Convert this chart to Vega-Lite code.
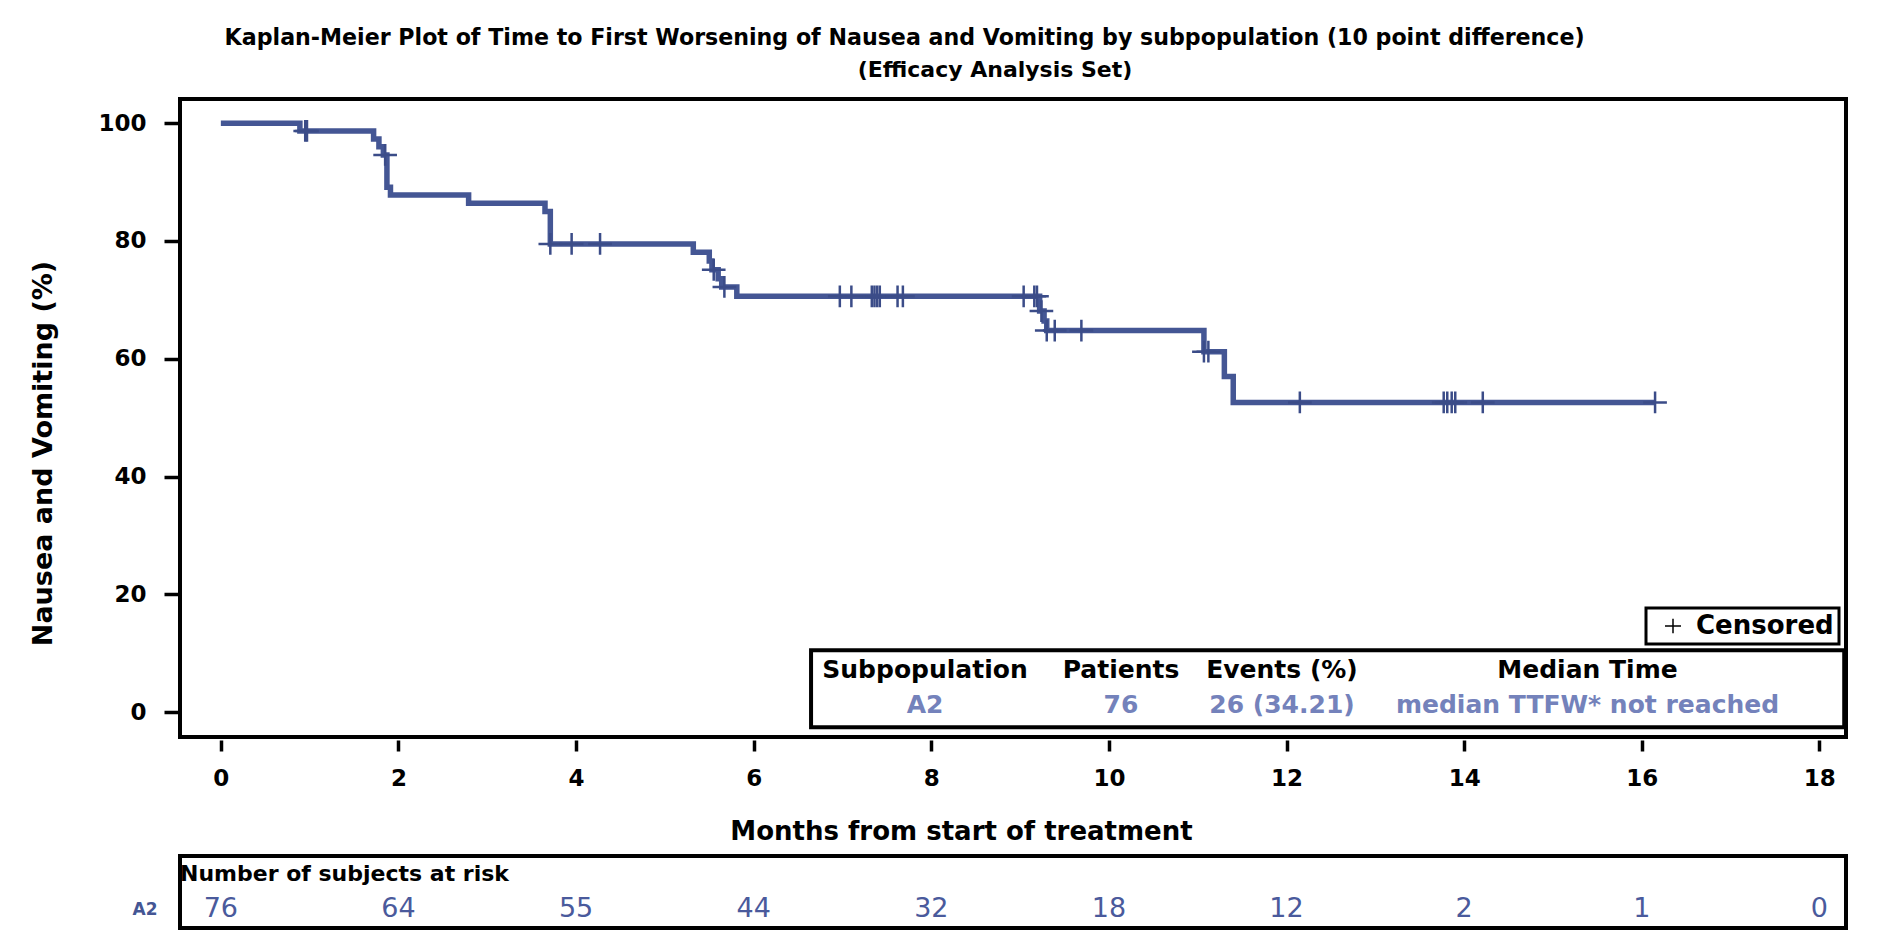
{
  "$schema": "https://vega.github.io/schema/vega-lite/v6.json",
  "background": "white",
  "padding": {"left": 27, "top": 26, "right": 10, "bottom": 4},
  "config": {
    "font": "DejaVu Sans",
    "view": {"stroke": "black", "strokeWidth": 4},
    "axis": {"labelFont": "DejaVu Sans", "titleFont": "DejaVu Sans", "labelColor": "black", "titleColor": "black", "tickColor": "black", "grid": false, "domain": false},
    "title": {"font": "DejaVu Sans", "color": "black"},
    "legend": {"labelFont": "DejaVu Sans", "strokeWidth": 3}
  },
  "title": {
    "text": "Kaplan-Meier Plot of Time to First Worsening of Nausea and Vomiting by subpopulation (10 point difference)",
    "fontSize": 22.15, "fontWeight": "bold", "anchor": "middle", "offset": 7, "dx": -33
  },
  "datasets": {
    "km": [
      {"month": 0, "pct": 100},
      {"month": 0.89, "pct": 98.68},
      {"month": 1.72, "pct": 97.3},
      {"month": 1.78, "pct": 96.0},
      {"month": 1.83, "pct": 94.6},
      {"month": 1.87, "pct": 89.1},
      {"month": 1.91, "pct": 87.8},
      {"month": 2.79, "pct": 86.4},
      {"month": 3.65, "pct": 85.0},
      {"month": 3.71, "pct": 79.5},
      {"month": 5.32, "pct": 78.1},
      {"month": 5.5, "pct": 76.6},
      {"month": 5.53, "pct": 75.1},
      {"month": 5.6, "pct": 73.6},
      {"month": 5.64, "pct": 72.2},
      {"month": 5.81, "pct": 70.6},
      {"month": 9.22, "pct": 68.1},
      {"month": 9.27, "pct": 66.4},
      {"month": 9.3, "pct": 64.8},
      {"month": 11.07, "pct": 61.2},
      {"month": 11.3, "pct": 57.0},
      {"month": 11.4, "pct": 52.6},
      {"month": 16.15, "pct": 52.6}
    ],
    "censored": [
      {"month": 0.95, "pct": 98.68},
      {"month": 0.97, "pct": 98.68},
      {"month": 1.85, "pct": 94.6},
      {"month": 3.71, "pct": 79.5},
      {"month": 3.95, "pct": 79.5},
      {"month": 4.27, "pct": 79.5},
      {"month": 5.55, "pct": 75.1},
      {"month": 5.67, "pct": 72.2},
      {"month": 6.97, "pct": 70.6},
      {"month": 7.1, "pct": 70.6},
      {"month": 7.33, "pct": 70.6},
      {"month": 7.36, "pct": 70.6},
      {"month": 7.39, "pct": 70.6},
      {"month": 7.42, "pct": 70.6},
      {"month": 7.62, "pct": 70.6},
      {"month": 7.68, "pct": 70.6},
      {"month": 9.04, "pct": 70.6},
      {"month": 9.16, "pct": 70.6},
      {"month": 9.19, "pct": 70.6},
      {"month": 9.24, "pct": 68.1},
      {"month": 9.3, "pct": 64.8},
      {"month": 9.39, "pct": 64.8},
      {"month": 9.69, "pct": 64.8},
      {"month": 11.07, "pct": 61.2},
      {"month": 11.12, "pct": 61.2},
      {"month": 12.15, "pct": 52.6},
      {"month": 13.77, "pct": 52.6},
      {"month": 13.81, "pct": 52.6},
      {"month": 13.86, "pct": 52.6},
      {"month": 13.9, "pct": 52.6},
      {"month": 14.21, "pct": 52.6},
      {"month": 16.15, "pct": 52.6}
    ],
    "summary": [
      {"column": 1, "row": "header", "label": "Subpopulation"},
      {"column": 2, "row": "header", "label": "Patients"},
      {"column": 3, "row": "header", "label": "Events (%)"},
      {"column": 4, "row": "header", "label": "Median Time"},
      {"column": 1, "row": "value", "label": "A2"},
      {"column": 2, "row": "value", "label": "76"},
      {"column": 3, "row": "value", "label": "26 (34.21)"},
      {"column": 4, "row": "value", "label": "median TTFW* not reached"}
    ],
    "risk": [
      {"group": "A2", "month": 0, "n": 76},
      {"group": "A2", "month": 2, "n": 64},
      {"group": "A2", "month": 4, "n": 55},
      {"group": "A2", "month": 6, "n": 44},
      {"group": "A2", "month": 8, "n": 32},
      {"group": "A2", "month": 10, "n": 18},
      {"group": "A2", "month": 12, "n": 12},
      {"group": "A2", "month": 14, "n": 2},
      {"group": "A2", "month": 16, "n": 1},
      {"group": "A2", "month": 18, "n": 0}
    ]
  },
  "spacing": 8,
  "vconcat": [
    {
      "width": 1666,
      "height": 638,
      "title": {"text": "(Efficacy Analysis Set)", "fontSize": 22, "fontWeight": "bold", "anchor": "middle", "frame": "group", "offset": 17, "dx": -18},
      "layer": [
        {
          "layer": [
            {
              "data": {"name": "km"},
              "mark": {"type": "line", "interpolate": "step-after", "color": "#445694", "strokeWidth": 5.5, "strokeCap": "butt", "strokeJoin": "miter"},
              "encoding": {
                "x": {
                  "field": "month", "type": "quantitative",
                  "scale": {"domain": [-0.46, 18.3], "nice": false, "zero": false},
                  "axis": {"values": [0, 2, 4, 6, 8, 10, 12, 14, 16, 18], "format": "d", "title": "Months from start of treatment", "titleFontSize": 26, "titleFontWeight": "bold", "labelFontSize": 23, "labelFontWeight": "bold", "tickSize": 11, "tickWidth": 3.5, "offset": 3, "labelPadding": 16, "titleX": 781, "titleY": 78}
                },
                "y": {
                  "field": "pct", "type": "quantitative",
                  "scale": {"domain": [-4.2, 104.1], "nice": false, "zero": false},
                  "axis": {"values": [0, 20, 40, 60, 80, 100], "title": "Nausea and Vomiting (%)", "titleFontSize": 27, "titleFontWeight": "bold", "labelFontSize": 23, "labelFontWeight": "bold", "tickSize": 14, "tickWidth": 3.5, "offset": 2, "labelPadding": 18, "titleX": -121, "titleY": 354}
                }
              }
            },
            {
              "data": {"name": "censored"},
              "mark": {"type": "point", "filled": false, "strokeWidth": 2.5, "color": "#3b4c88", "opacity": 1},
              "encoding": {
                "x": {"field": "month", "type": "quantitative"},
                "y": {"field": "pct", "type": "quantitative"},
                "shape": {
                  "datum": "Censored",
                  "scale": {"domain": ["Censored"], "range": ["M-1,0H1M0,-0.92V0.92"]},
                  "legend": {"title": null, "orient": "none", "legendX": 1466, "legendY": 509, "strokeColor": "black", "fillColor": "white", "padding": 5, "symbolStrokeColor": "black", "symbolStrokeWidth": 1.5, "symbolFillColor": "transparent", "symbolSize": 256, "symbolOffset": 9, "labelOffset": 10, "labelFontSize": 26, "labelFontWeight": "bold", "labelColor": "black"}
                },
                "size": {"value": 560}
              }
            },
            {
              "data": {"values": [{}]},
              "mark": {"type": "rect", "fill": "white", "stroke": "black", "strokeWidth": 4},
              "encoding": {
                "x": {"datum": 6.646}, "x2": {"datum": 18.28},
                "y": {"datum": 10.53}, "y2": {"datum": -2.55}
              }
            }
          ]
        },
        {
          "data": {"name": "summary"},
          "mark": {"type": "text", "fontSize": 25, "fontWeight": "bold", "baseline": "middle", "align": "center"},
          "encoding": {
            "x": {"field": "column", "type": "quantitative", "scale": {"domain": [1, 2, 3, 4], "range": [745, 941, 1102, 1407.5], "nice": false, "zero": false}, "axis": null},
            "y": {"field": "row", "type": "nominal", "scale": {"type": "point", "domain": ["header", "value"], "range": [571, 606], "padding": 0}, "axis": null},
            "text": {"field": "label"},
            "color": {"condition": {"test": "datum.row === 'header'", "value": "black"}, "value": "#7482bb"}
          }
        }
      ],
      "resolve": {"scale": {"x": "independent", "y": "independent"}}
    },
    {
      "width": 1666,
      "height": 72,
      "title": {"text": "Number of subjects at risk", "anchor": "start", "frame": "group", "orient": "top", "offset": -30, "fontSize": 22, "fontWeight": "bold"},
      "data": {"name": "risk"},
      "mark": {"type": "text", "fontSize": 27, "color": "#4a5a9c", "baseline": "middle", "align": "center"},
      "encoding": {
        "x": {"field": "month", "type": "quantitative", "scale": {"domain": [-0.46, 18.3], "nice": false, "zero": false}, "axis": null},
        "y": {"field": "group", "type": "nominal", "scale": {"type": "point", "align": 0.74}, "axis": {"title": null, "ticks": false, "tickSize": 0, "labelPadding": 23, "labelFontSize": 17, "labelFontWeight": "bold", "labelColor": "#445694"}},
        "text": {"field": "n", "type": "quantitative"}
      }
    }
  ]
}
